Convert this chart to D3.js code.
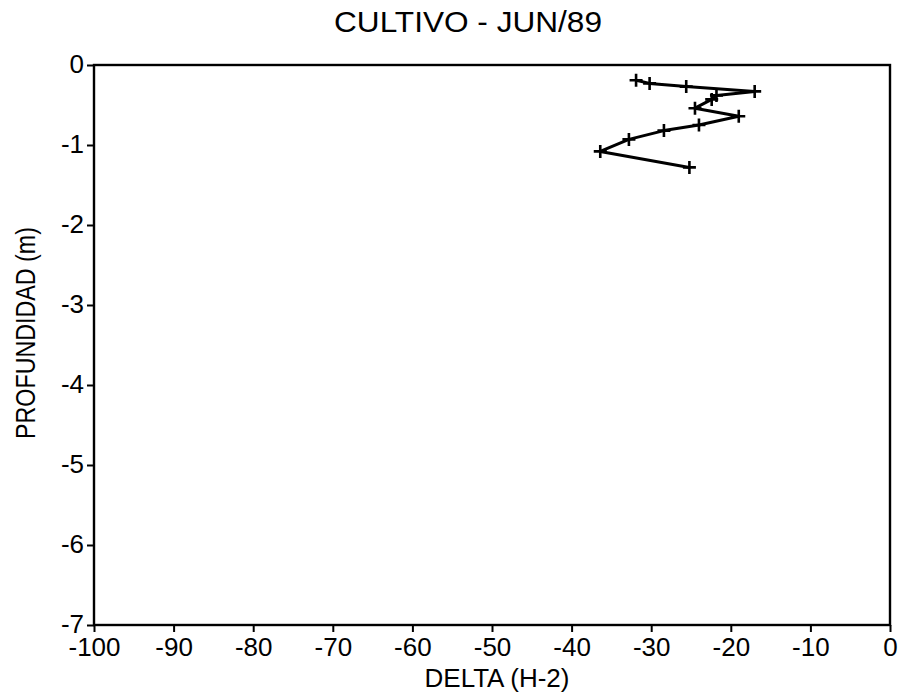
<!DOCTYPE html>
<html>
<head>
<meta charset="utf-8">
<script src="https://cdn.jsdelivr.net/npm/d3@7"></script>
<style>
  body { margin: 0; background: #fff; }
  svg { display: block; }
  text { font-family: Arial, "Liberation Sans", Helvetica, sans-serif; fill: #000; }
</style>
</head>
<body>
<div id="chart"></div>
<script>
`use strict`;

// valores
const delta = [-31.9, -30.2, -25.6, -17.0, -21.8, -22.4, -24.5, -19.0, -24.0, -28.4, -32.8, -36.4, -25.2];
const profundidad = [-0.19, -0.23, -0.27, -0.33, -0.38, -0.43, -0.54, -0.64, -0.75, -0.82, -0.93, -1.08, -1.28];

const xTicks = [-100, -90, -80, -70, -60, -50, -40, -30, -20, -10, 0];
const yTicks = [0, -1, -2, -3, -4, -5, -6, -7];

const title = `CULTIVO - JUN/89`;
const xLabel = `DELTA (H-2)`;
const yLabel = `PROFUNDIDAD (m)`;

(function () {

  const W = 905, H = 697;
  const m = {left: 94, right: 15, top: 65, bottom: 72};

  // guion simple, como en el original
  let fmt = d => String(d).replace(`\u2212`, `-`);

  let svg = d3.select(`#chart`).append(`svg`)
    .attr(`width`, W)
    .attr(`height`, H);

  let x = d3.scaleLinear().domain([-100, 0]).range([m.left, W - m.right]);
  let y = d3.scaleLinear().domain([0, -7]).range([m.top, H - m.bottom]);

  let xAxis = svg.append(`g`)
    .attr(`transform`, `translate(0,${H - m.bottom})`)
    .call(d3.axisBottom(x).tickValues(xTicks).tickSize(7).tickPadding(5).tickFormat(fmt));

  let yAxis = svg.append(`g`)
    .attr(`transform`, `translate(${m.left},0)`)
    .call(d3.axisLeft(y).tickValues(yTicks).tickSize(7).tickPadding(3).tickFormat(fmt));

  [xAxis, yAxis].forEach(a => {
    a.select(`.domain`).remove();
    a.selectAll(`line`).attr(`stroke`, `#000`).attr(`stroke-width`, 2);
    a.selectAll(`text`)
      .style(`font-size`, `26px`)
      .attr(`fill`, `#000`);
  });

  yAxis.selectAll(`text`).attr(`dy`, `0.3em`);
  xAxis.selectAll(`text`).attr(`dy`, `0.72em`);

  // marco
  svg.append(`rect`)
    .attr(`x`, x(-100))
    .attr(`y`, y(0))
    .attr(`width`, x(0) - x(-100))
    .attr(`height`, y(-7) - y(0))
    .attr(`fill`, `none`)
    .attr(`stroke`, `#000`)
    .attr(`stroke-width`, 2.4);

  let pts = delta.map((d, i) => [d, profundidad[i]]);

  let line = d3.line()
    .x(d => x(d[0]))
    .y(d => y(d[1]));

  svg.append(`path`)
    .datum(pts)
    .attr(`d`, line)
    .attr(`fill`, `none`)
    .attr(`stroke`, `#000`)
    .attr(`stroke-width`, 3)
    .attr(`stroke-linejoin`, `round`);

  svg.append(`g`).selectAll(`path`).data(pts)
    .enter()
    .append(`path`)
    .attr(`d`, d => {
      let cx = x(d[0]), cy = y(d[1]), r = 6.5;
      return `M${cx - r},${cy}H${cx + r}M${cx},${cy - r}V${cy + r}`;
    })
    .attr(`stroke`, `#000`)
    .attr(`stroke-width`, 2.6)
    .attr(`fill`, `none`);

  svg.append(`text`)
    .attr(`x`, 468)
    .attr(`y`, 32)
    .attr(`text-anchor`, `middle`)
    .attr(`textLength`, 268)
    .attr(`lengthAdjust`, `spacingAndGlyphs`)
    .style(`font-size`, `30px`)
    .text(title);

  svg.append(`text`)
    .attr(`x`, 497)
    .attr(`y`, 687)
    .attr(`text-anchor`, `middle`)
    .style(`font-size`, `26px`)
    .text(xLabel);

  svg.append(`text`)
    .attr(`transform`, `translate(35,333) rotate(-90)`)
    .attr(`text-anchor`, `middle`)
    .attr(`textLength`, 212)
    .attr(`lengthAdjust`, `spacingAndGlyphs`)
    .style(`font-size`, `27px`)
    .text(yLabel);

})();
</script>
</body>
</html>
